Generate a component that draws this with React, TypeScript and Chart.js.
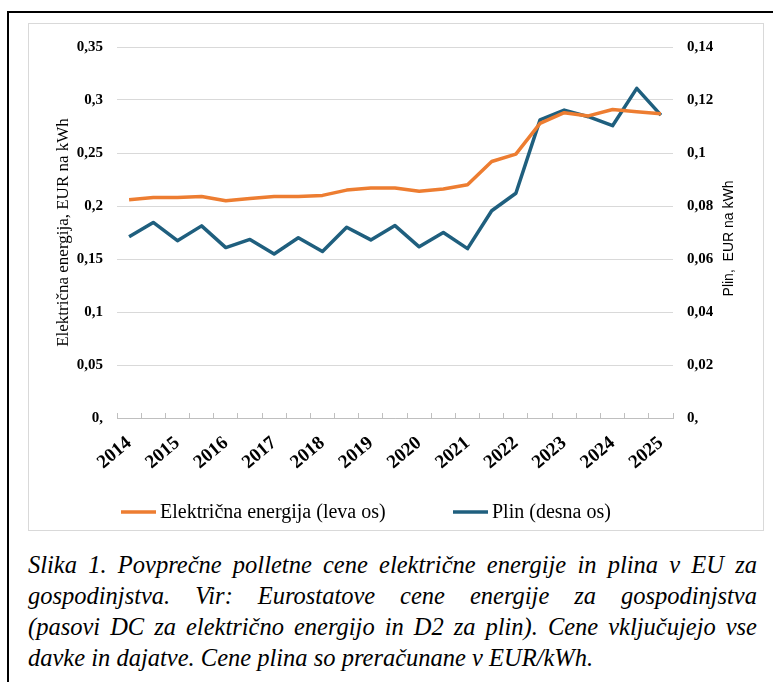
import React, { useEffect, useRef } from "react";
import { Chart, registerables } from "chart.js";

Chart.register(...registerables);

// ---- data ----
const categories = [
  "2014 S1", "2014 S2", "2015 S1", "2015 S2", "2016 S1", "2016 S2",
  "2017 S1", "2017 S2", "2018 S1", "2018 S2", "2019 S1", "2019 S2",
  "2020 S1", "2020 S2", "2021 S1", "2021 S2", "2022 S1", "2022 S2",
  "2023 S1", "2023 S2", "2024 S1", "2024 S2", "2025 S1",
];
const yearLabels = [
  "2014", "2015", "2016", "2017", "2018", "2019",
  "2020", "2021", "2022", "2023", "2024", "2025",
];
const electricity = [
  0.206, 0.208, 0.208, 0.209, 0.205, 0.207, 0.209, 0.209, 0.21, 0.215, 0.217, 0.217,
  0.214, 0.216, 0.22, 0.242, 0.249, 0.278, 0.288, 0.285, 0.291, 0.289, 0.287,
];
const gas = [
  0.0684, 0.0738, 0.0669, 0.0725, 0.0643, 0.0674, 0.0619, 0.068, 0.0628, 0.072, 0.0672, 0.0726,
  0.0646, 0.07, 0.0639, 0.0782, 0.0848, 0.1125, 0.1162, 0.1137, 0.1103, 0.1244, 0.1143,
];
const seriesNames = ["Električna energija (leva os)", "Plin (desna os)"];
const leftTitle = "Električna energija, EUR na kWh";
const rightTitle = "Plin,  EUR na kWh";
const captionLines = [
  "Slika 1. Povprečne polletne cene električne energije in plina v EU za",
  "gospodinjstva. Vir: Eurostatove cene energije za gospodinjstva",
  "(pasovi DC za električno energijo in D2 za plin). Cene vključujejo vse",
  "davke in dajatve. Cene plina so preračunane v EUR/kWh.",
];

const ORANGE = "#ED7D31";
const BLUE = "#1F5F7E";
const SERIF = '"Liberation Serif", Tinos, "Times New Roman", Times, "DejaVu Serif", serif';
const SANS = '"Liberation Sans", Arial, sans-serif';

const fmt = (v: number) => {
  if (Math.abs(v) < 1e-9) return "0,";
  return String(parseFloat(v.toFixed(3))).replace(".", ",");
};

const extras = {
  id: "extras",
  afterDraw(chart: any) {
    const ctx = chart.ctx;
    const area = chart.chartArea;
    const ds = chart.data.datasets;
    ctx.save();
    // legend
    const ly = area.bottom + 94;
    const starts = [area.left + 4, area.left + 336];
    ctx.font = `20px ${SERIF}`;
    ctx.textBaseline = "middle";
    ctx.textAlign = "left";
    ds.forEach((d: any, i: number) => {
      const x = starts[i];
      ctx.strokeStyle = d.borderColor;
      ctx.lineWidth = 3.5;
      ctx.beginPath();
      ctx.moveTo(x, ly);
      ctx.lineTo(x + 35, ly);
      ctx.stroke();
      ctx.fillStyle = "#000";
      ctx.fillText(d.label, x + 39, ly + 1);
    });
    // right axis title (reads bottom to top)
    const s = chart.scales.y1;
    ctx.translate(s.right - 34, (s.top + s.bottom) / 2 + 6);
    ctx.rotate(-Math.PI / 2);
    ctx.font = `14px ${SANS}`;
    ctx.textAlign = "center";
    ctx.fillStyle = "#000";
    ctx.fillText(rightTitle, 0, 0);
    ctx.restore();
  },
};

export default function App() {
  const ref = useRef<HTMLCanvasElement>(null);
  useEffect(() => {
    if (!ref.current) return;
    const chart = new Chart(ref.current, {
      type: "line",
      data: {
        labels: categories,
        datasets: [
          {
            label: seriesNames[0],
            data: electricity,
            borderColor: ORANGE,
            backgroundColor: ORANGE,
            borderWidth: 3.5,
            pointRadius: 0,
            tension: 0,
            yAxisID: "y",
            borderJoinStyle: "round",
          },
          {
            label: seriesNames[1],
            data: gas,
            borderColor: BLUE,
            backgroundColor: BLUE,
            borderWidth: 3.5,
            pointRadius: 0,
            tension: 0,
            yAxisID: "y1",
            borderJoinStyle: "round",
          },
        ],
      },
      options: {
        animation: false,
        responsive: false,
        maintainAspectRatio: false,
        layout: { padding: { top: 23, left: 0, right: 0, bottom: 0 } },
        plugins: { legend: { display: false }, tooltip: { enabled: false } },
        scales: {
          x: {
            type: "category",
            offset: true,
            grid: {
              display: true,
              offset: true,
              drawOnChartArea: false,
              drawTicks: true,
              tickLength: -5,
              tickColor: "#BFBFBF",
            },
            border: { display: true, color: "#BFBFBF", width: 1 },
            ticks: {
              autoSkip: false,
              maxRotation: 40,
              minRotation: 40,
              padding: 19,
              color: "#000",
              font: { family: SERIF, size: 19, weight: "bold" },
              callback: (_v: any, i: number) => (i % 2 === 0 ? yearLabels[i / 2] : ""),
            },
            afterFit: (s: any) => {
              s.height = 112;
            },
          },
          y: {
            position: "left",
            min: 0,
            max: 0.35,
            ticks: {
              stepSize: 0.05,
              padding: 14,
              color: "#000",
              font: { family: SERIF, size: 15, weight: "bold" },
              callback: (v: any) => fmt(Number(v)),
            },
            grid: { color: "#D9D9D9", drawTicks: false, lineWidth: 1 },
            border: { display: false },
            title: {
              display: true,
              text: leftTitle,
              color: "#000",
              font: { family: SERIF, size: 17 },
              padding: { top: 24, bottom: 0 },
            },
            afterFit: (s: any) => {
              s.width = 88;
            },
          },
          y1: {
            position: "right",
            min: 0,
            max: 0.14,
            ticks: {
              stepSize: 0.02,
              padding: 14,
              color: "#000",
              font: { family: SERIF, size: 15, weight: "bold" },
              callback: (v: any) => fmt(Number(v)),
            },
            grid: { display: false, drawTicks: false },
            border: { display: false },
            afterFit: (s: any) => {
              s.width = 90;
            },
          },
        },
      },
      plugins: [extras],
    } as any);
    return () => chart.destroy();
  }, []);

  return (
    <div>
      <div
        style={{
          position: "absolute",
          left: 7,
          top: 11,
          width: 766,
          height: 671,
          boxSizing: "border-box",
          borderTop: "2px solid #000",
          borderLeft: "2px solid #000",
        }}
      />
      <div
        style={{
          position: "absolute",
          left: 28,
          top: 23,
          width: 734,
          height: 506,
          border: "1px solid #D9D9D9",
          background: "#fff",
        }}
      >
        <canvas ref={ref} width={734} height={506} style={{ display: "block", width: 734, height: 506 }} />
      </div>
      <div
        style={{
          position: "absolute",
          left: 28,
          top: 549,
          width: 729,
          fontFamily: SERIF,
          fontStyle: "italic",
          fontSize: 24.5,
          lineHeight: "31px",
          color: "#000",
          textAlign: "justify",
          whiteSpace: "nowrap",
        }}
      >
        {captionLines.map((l, i) => (
          <div key={i} style={{ textAlignLast: i < captionLines.length - 1 ? "justify" : "left" } as any}>
            {l}
          </div>
        ))}
      </div>
    </div>
  );
}
